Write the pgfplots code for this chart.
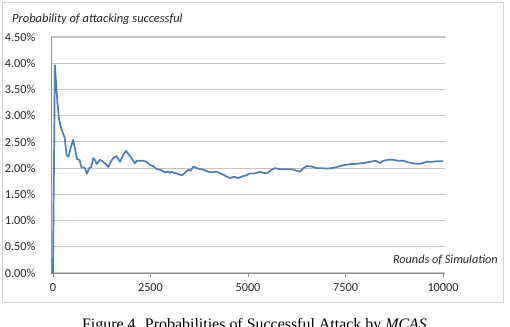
\documentclass[border=0pt]{standalone}
\usepackage{pgfplots}
\pgfplotsset{compat=1.18}
\usepackage{fontspec}
\setmainfont{Carlito}
\newfontfamily\capfont{Liberation Serif}
\definecolor{linecol}{HTML}{4A7EBB}
\definecolor{gridcol}{HTML}{C4C4C4}
\definecolor{axcol}{HTML}{8C8C8C}
\definecolor{framecol}{HTML}{D4D4D4}
\definecolor{txtcol}{HTML}{262626}
\begin{document}
\begin{tikzpicture}[x=1bp,y=1bp]
\path[use as bounding box, clip] (0,0) rectangle (510,326);
\fill[white] (0,0) rectangle (510,326);
\draw[framecol, line width=1bp] (2.5,24) rectangle (503.5,323);
\begin{axis}[
  at={(51bp,53bp)}, anchor=south west,
  scale only axis, width=394bp, height=236bp,
  xmin=-50, xmax=10050, ymin=0, ymax=4.5,
  xtick={0,2500,5000,7500,10000},
  xticklabels={0,2500,5000,7500,10000},
  scaled x ticks=false,
  ytick={0,0.5,1,1.5,2,2.5,3,3.5,4,4.5},
  yticklabels={0.00\%,0.50\%,1.00\%,1.50\%,2.00\%,2.50\%,3.00\%,3.50\%,4.00\%,4.50\%},
  ymajorgrids, grid style={gridcol, line width=1.1bp},
  axis x line*=bottom, axis y line*=left,
  x axis line style={axcol, line width=1bp, -},
  y axis line style={axcol, line width=1bp, -},
  every outer x axis line/.append style={-},
  every outer y axis line/.append style={-},
  xtick style={axcol, line width=0.8bp},
  ytick style={draw=none},
  tick align=outside, major tick length=3.5bp,
  xticklabel style={font=\fontsize{12.3}{14}\selectfont, text=txtcol, inner sep=0pt, yshift=-7bp},
  yticklabel style={font=\fontsize{12.3}{14}\selectfont, text=txtcol, inner sep=0pt, xshift=-12bp},
  clip=false,
]
\addplot[linecol, line width=1.7bp, line join=round] coordinates {
(0,0) (50,3.96) (100,3.40) (150,2.95) (200,2.79) (250,2.68) (300,2.58)
(350,2.25) (400,2.22) (450,2.38) (520,2.54) (570,2.35) (620,2.17) (680,2.16)
(730,2.02) (820,2.00) (870,1.89) (930,2.00) (980,2.02) (1035,2.19) (1080,2.15)
(1120,2.08) (1205,2.16) (1250,2.14) (1290,2.12) (1350,2.08) (1420,2.02)
(1480,2.12) (1545,2.19) (1630,2.23) (1720,2.12) (1800,2.25) (1870,2.33)
(1975,2.23) (2100,2.09) (2150,2.14) (2230,2.14) (2315,2.14) (2400,2.12)
(2490,2.06) (2570,2.04) (2660,1.98) (2745,1.97) (2800,1.95) (2870,1.92)
(2960,1.93) (3000,1.91) (3040,1.93) (3100,1.91) (3170,1.90) (3300,1.86)
(3385,1.91) (3470,1.97) (3530,1.95) (3600,2.03) (3725,1.99) (3855,1.97)
(3980,1.93) (4070,1.92) (4200,1.93) (4325,1.89) (4450,1.84) (4540,1.81)
(4610,1.83) (4670,1.83) (4750,1.81) (4880,1.85) (4950,1.86) (5050,1.90)
(5180,1.90) (5310,1.93) (5390,1.91) (5480,1.90) (5610,1.97) (5690,2.00)
(5820,1.98) (5950,1.98) (6120,1.98) (6250,1.95) (6330,1.93) (6420,2.00)
(6505,2.04) (6635,2.03) (6760,2.00) (6890,2.00) (7020,1.99) (7145,2.00)
(7275,2.02) (7360,2.04) (7490,2.06) (7660,2.08) (7745,2.08) (7870,2.09)
(8000,2.10) (8130,2.12) (8260,2.14) (8385,2.10) (8470,2.14) (8600,2.16)
(8725,2.16) (8855,2.14) (8980,2.14) (9110,2.11) (9240,2.09) (9370,2.08)
(9450,2.09) (9580,2.12) (9710,2.12) (9840,2.13) (10000,2.13)
};
\end{axis}
\node[anchor=base west, inner sep=0pt, text=txtcol, font=\fontsize{12.5}{14}\selectfont\itshape] at (12,304) {Probability of attacking successful};
\node[anchor=base east, inner sep=0pt, text=txtcol, font=\fontsize{12.3}{14}\selectfont\itshape] at (498,63) {Rounds of Simulation};
\node[anchor=base, inner sep=0pt, font=\fontsize{16}{18}\selectfont\capfont] at (254.5,-3) {Figure 4. Probabilities of Successful Attack by \textit{MCAS}};
\end{tikzpicture}
\end{document}
